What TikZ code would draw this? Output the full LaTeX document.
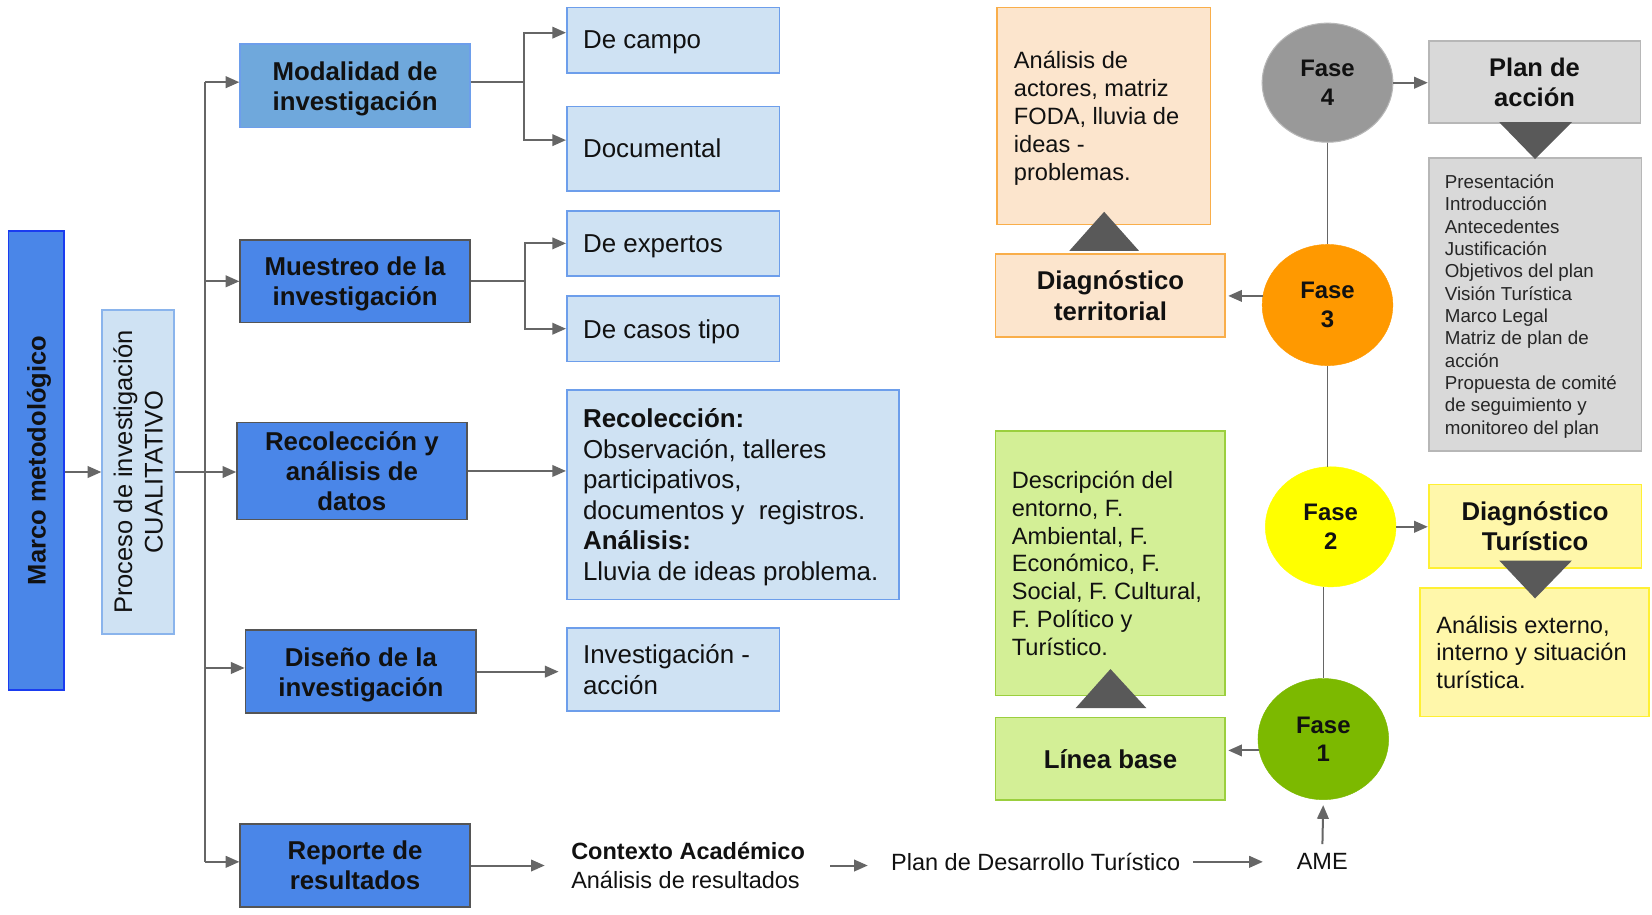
\documentclass[tikz,border=0pt]{standalone}
\usepackage{fontspec}
\setmainfont{Liberation Sans}
\usetikzlibrary{arrows.meta,shapes.geometric}
\definecolor{dblue}{HTML}{4A86E8}
\definecolor{mblue}{HTML}{6FA8DC}
\definecolor{lblue}{HTML}{CFE2F3}
\definecolor{lbluebd}{HTML}{6D9EEB}
\definecolor{procbd}{HTML}{8AB4EC}
\definecolor{marcobd}{HTML}{1A3CF0}
\definecolor{darkbd}{HTML}{555555}
\definecolor{conn}{HTML}{666666}
\definecolor{tri}{HTML}{595959}
\definecolor{peach}{HTML}{FCE5CD}
\definecolor{orangebd}{HTML}{F9AE4A}
\definecolor{fasethree}{HTML}{FF9900}
\definecolor{fasefour}{HTML}{999999}
\definecolor{fasetwo}{HTML}{FFFF00}
\definecolor{faseone}{HTML}{7CB900}
\definecolor{limefill}{HTML}{D3EF96}
\definecolor{limebd}{HTML}{9BCF3E}
\definecolor{lyellow}{HTML}{FFF7AA}
\definecolor{yellowbd}{HTML}{FFF033}
\definecolor{lgray}{HTML}{D9D9D9}
\definecolor{graybd}{HTML}{B7B7B7}
\definecolor{txt}{HTML}{111111}
\begin{document}
\begin{tikzpicture}[x=1pt,y=-1pt,
  box/.style={draw, rectangle, line width=1.6pt, inner sep=0pt, align=center, text=txt, text depth=0pt},
  bigbold/.style={font=\fontsize{24.5}{28.5}\selectfont\bfseries},
  leaftxt/.style={font=\fontsize{24.6}{29}\selectfont},
  midtxt/.style={font=\fontsize{22.4}{26.4}\selectfont},
  smalltxt/.style={font=\fontsize{17.8}{21.2}\selectfont},
  fasetxt/.style={font=\fontsize{22.7}{27}\selectfont\bfseries},
  branch/.style={box, bigbold, fill=dblue, draw=darkbd, minimum width=218pt},
  leaf/.style={box, fill=lblue, draw=lbluebd, minimum width=202pt},
  inner/.style={anchor=west, align=left, inner sep=0pt, text=txt, text depth=0pt},
  fase/.style={ellipse, inner sep=0pt, align=center, fasetxt, text=txt, minimum width=124pt},
  arr/.style={draw=conn, line width=1.9pt, -{Triangle[length=13pt,width=11pt]}},
  ln/.style={draw=conn, line width=1.9pt}
]
\useasboundingbox (0,0) rectangle (1568,868);
\fill[white] (0,0) rectangle (1568,868);

% left column
\node[box, fill=dblue, draw=marcobd, rotate=90, minimum width=436pt, minimum height=53pt, font=\fontsize{24.2}{27}\selectfont\bfseries] (marco) at (34.5,437) {Marco metodológico};
\node[box, fill=lblue, draw=procbd, rotate=90, minimum width=308pt, minimum height=68pt, font=\fontsize{24.2}{29}\selectfont] (proceso) at (131,448) {Proceso de investigación\\CUALITATIVO};

% branches
\node[branch, fill=mblue, draw=lbluebd, minimum height=79pt] (modalidad) at (337,81.5) {Modalidad de\\investigación};
\node[branch, minimum height=78pt] (muestreo) at (337,267) {Muestreo de la\\investigación};
\node[branch, minimum height=92pt] (recoleccion) at (334,447) {Recolección y\\análisis de\\datos};
\node[branch, minimum width=219pt, minimum height=79pt] (diseno) at (342.5,637.5) {Diseño de la\\investigación};
\node[branch, minimum height=79pt] (reporte) at (337,821.5) {Reporte de\\resultados};

% leaves
\node[leaf, minimum height=62pt] (decampo) at (639,38) {};
\node[inner, leaftxt] (decampot) at ([xshift=16pt]decampo.west) {De campo};
\node[leaf, minimum height=80pt] (documental) at (639,141) {};
\node[inner, leaftxt] (documentalt) at ([xshift=16pt]documental.west) {Documental};
\node[leaf, minimum height=62pt] (expertos) at (639,231) {};
\node[inner, leaftxt] (expertost) at ([xshift=16pt]expertos.west) {De expertos};
\node[leaf, minimum height=62pt] (casos) at (639,312) {};
\node[inner, leaftxt] (casost) at ([xshift=16pt]casos.west) {De casos tipo};
\node[leaf, minimum width=315pt, minimum height=199pt] (recoltext) at (695.5,469.5) {};
\node[inner, leaftxt] (recoltextt) at ([xshift=16pt]recoltext.west) {\textbf{Recolección:}\\Observación, talleres\\participativos,\\documentos y \ registros.\\\textbf{Análisis:}\\Lluvia de ideas problema.};
\node[leaf, minimum height=79pt] (invaccion) at (639,635.5) {};
\node[inner, leaftxt] (invacciont) at ([xshift=16pt]invaccion.west) {Investigación -\\acción};

% bottom chain
\node[inner, font=\fontsize{22.3}{27}\selectfont] (contexto) at (542,821.5) {\textbf{Contexto Académico}\\Análisis de resultados};
\node[inner sep=0pt, font=\fontsize{22.3}{26}\selectfont, text=txt, text depth=0pt] (plan) at (983,818) {Plan de Desarrollo Turístico};
\node[inner sep=0pt, font=\fontsize{22.3}{26}\selectfont, text=txt, text depth=0pt] (ame) at (1255,818) {AME};

% trunk
\coordinate (ttop) at (195,78);
\coordinate (tmue) at (195,267);
\coordinate (tdis) at (195,634);
\coordinate (tbot) at (195,818);
\draw[ln] (ttop) -- (tbot);
\draw[arr] (ttop) -- (ttop -| modalidad.west);
\draw[arr] (tmue) -- (tmue -| muestreo.west);
\draw[arr] (tdis) -- (tdis -| diseno.west);
\draw[arr] (tbot) -- (tbot -| reporte.west);
\draw[arr] (marco.south |- proceso.center) -- (proceso.north |- proceso.center);
\draw[arr] (proceso.south) -- (proceso.south -| recoleccion.west);

% forks
\coordinate (fm) at (497,78);
\coordinate (fmt) at (497,31);
\coordinate (fmb) at (497,133);
\draw[ln] (modalidad.east |- fm) -- (fm);
\draw[arr] (fm) -- (fmt) -- (fmt -| decampo.west);
\draw[arr] (fm) -- (fmb) -- (fmb -| documental.west);
\coordinate (fs) at (498,267);
\coordinate (fst) at (498,231);
\coordinate (fsb) at (498,312);
\draw[ln] (muestreo.east |- fs) -- (fs);
\draw[arr] (fs) -- (fst) -- (fst -| expertos.west);
\draw[arr] (fs) -- (fsb) -- (fsb -| casos.west);

\draw[arr] (recoleccion.east) -- (recoltext.west |- recoleccion.east);
\draw[arr, shorten >=7pt] (diseno.east) -- (invaccion.west |- diseno.east);
\draw[arr, shorten >=25pt] (reporte.east) -- (contexto.west |- reporte.east);
\draw[arr, shorten <=24pt, shorten >=22pt] (contexto.east) -- (plan.west |- contexto.east);
\draw[arr, shorten <=12pt, shorten >=32pt] (plan.east) -- (ame.west);

% right side
\node[box, fill=peach, draw=orangebd, minimum width=203pt, minimum height=206pt] (orangebox) at (1047.5,110) {};
\node[inner, midtxt] (orangetxt) at ([xshift=17pt]orangebox.west) {Análisis de\\actores, matriz\\FODA, lluvia de\\ideas -\\problemas.};
\node[box, fill=peach, draw=orangebd, minimum width=218pt, minimum height=79pt, font=\fontsize{24.4}{29}\selectfont\bfseries] (diagterr) at (1054,280.5) {Diagnóstico\\territorial};
\fill[tri] (1015,238) -- (1081,238) -- (1048,201) -- cycle;

\node[box, fill=limefill, draw=limebd, minimum width=218pt, minimum height=251pt] (greenbox) at (1054,534.5) {};
\node[inner, midtxt] (greentxt) at ([xshift=16pt]greenbox.west) {Descripción del\\entorno, F.\\Ambiental, F.\\Económico, F.\\Social, F. Cultural,\\F. Político y\\Turístico.};
\node[box, bigbold, fill=limefill, draw=limebd, minimum width=218pt, minimum height=78pt] (lineabase) at (1054,720) {Línea base};
\fill[tri] (1021,672) -- (1088,672) -- (1054,635) -- cycle;

\node[fase, fill=fasefour, draw=graybd, line width=1pt, minimum height=113pt] (fase4) at (1260,78.5) {Fase\\4};
\node[fase, fill=fasethree, draw=fasethree, minimum height=115pt] (fase3) at (1260,289.5) {Fase\\3};
\node[fase, fill=fasetwo, draw=fasetwo, minimum height=114pt] (fase2) at (1263,500) {Fase\\2};
\node[fase, fill=faseone, draw=faseone, minimum height=115pt] (fase1) at (1256,701.5) {Fase\\1};

\draw[ln, line width=1.5pt] (fase4.south) -- (fase3.north);
\draw[ln, line width=1.5pt] (fase3.south) -- (fase3.south |- fase2.north);
\draw[ln, line width=1.5pt] (fase1.north |- fase2.south) -- (fase1.north);

\node[box, fill=lgray, draw=graybd, minimum width=201pt, minimum height=78pt, font=\fontsize{24.2}{29}\selectfont\bfseries] (planaccion) at (1456.5,78) {Plan de\\acción};
\node[box, fill=lgray, draw=graybd, minimum width=202pt, minimum height=278pt] (listbox) at (1457,289) {};
\node[inner, smalltxt, text=black!85] (listtxt) at ([xshift=16pt]listbox.west) {Presentación\\Introducción\\Antecedentes\\Justificación\\Objetivos del plan\\Visión Turística\\Marco Legal\\Matriz de plan de\\acción\\Propuesta de comité\\de seguimiento y\\monitoreo del plan};
\fill[tri] (1423,116) -- (1492,116) -- (1457,151) -- cycle;

\node[box, fill=lyellow, draw=yellowbd, minimum width=202pt, minimum height=79pt, font=\fontsize{24.4}{29}\selectfont\bfseries] (diagtur) at (1457,499.5) {Diagnóstico\\Turístico};
\node[box, fill=lyellow, draw=yellowbd, minimum width=217pt, minimum height=122pt] (analext) at (1456.5,619) {};
\node[inner, midtxt] (analtxt) at ([xshift=16pt]analext.west) {Análisis externo,\\interno y situación\\turística.};
\fill[tri] (1423,532) -- (1492,532) -- (1457,568) -- cycle;

\draw[arr] (fase4.east) -- (planaccion.west |- fase4.east);
\draw[arr, shorten >=2pt] (fase3.172) -- (diagterr.east |- fase3.172);
\draw[arr] (fase2.east) -- (diagtur.west |- fase2.east);
\draw[arr, shorten >=2pt] (fase1.190) -- (lineabase.east |- fase1.190);
\draw[arr, shorten <=9pt, shorten >=5pt] (ame.north) -- (fase1.south);
\end{tikzpicture}
\end{document}
